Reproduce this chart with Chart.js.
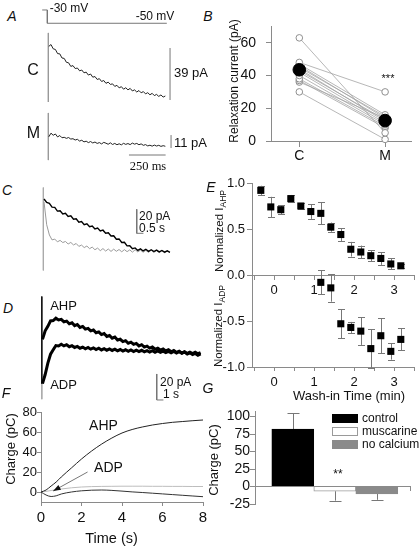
<!DOCTYPE html>
<html>
<head>
<meta charset="utf-8">
<script src="https://cdn.jsdelivr.net/npm/chart.js@4.4.1/dist/chart.umd.min.js"></script>
<style>
  body { margin: 0; background: #fff; }
  #fig { position: relative; width: 419px; height: 546px; overflow: hidden;
         font-family: "Liberation Sans", Arial, sans-serif; color: #111; }
  #fig canvas { position: absolute; }
  .t { position: absolute; white-space: nowrap; line-height: 1; }
  .key { position: absolute; width: 24px; height: 7px; }
</style>
</head>
<body>
<div id="fig"></div>
<script>
// ---- A: voltage step and relaxation currents, control (C) and muscarine (M)
const cmdTimeMs = [-35, 0, 0, 815];
const cmdMv = [-30, -30, -50, -50];
const relaxStartMs = 10, relaxStepMs = 15;
const relaxControlPa = [40.2, 41.6, 38.4, 37.9, 34.8, 34.6, 31.5, 31.2, 28.3, 27.9,
  25.2, 25.8, 23.6, 24.0, 21.9, 22.5, 20.4, 20.9, 18.7, 19.5,
  17.1, 17.6, 15.4, 16.0, 13.9, 14.6, 12.5, 13.4, 11.7, 12.1,
  10.2, 11.0, 9.1, 10.0, 8.1, 9.2, 7.6, 8.7, 6.8, 7.6,
  6.0, 7.1, 5.4, 6.3, 4.6, 5.5, 3.9, 5.0, 3.3, 4.2,
  2.7, 3.8, 2.2, 3.0];
const relaxMuscPa = [9.5, 12.6, 10.8, 11.9, 9.4, 10.6, 8.7, 9.1, 8.2, 8.9,
  7.6, 7.9, 6.8, 7.4, 5.9, 6.6, 5.2, 5.8, 4.6, 5.5,
  4.3, 5.1, 3.9, 4.6, 3.5, 4.8, 4.1, 3.2, 4.4, 3.0,
  3.9, 2.8, 3.6, 2.7, 4.0, 3.1, 3.8, 2.9, 4.2, 3.3,
  3.9, 2.8, 3.5, 2.3, 2.9, 1.8, 2.4, 1.6, 2.5, 1.7,
  2.3, 1.4, 2.0, 1.5];

// ---- B: relaxation current per cell
const bCats = ['C', 'M'];
const cellsControl = [63, 48, 47, 46, 45, 44, 43, 42, 40, 38, 37, 36, 30];
const cellsMusc = [5, 30, 16, 14, 15, 12, 13, 11, 10, 9, 8, 14, 1];
const meanControl = 43.5, meanMusc = 12.5;
const bTicksY = [0, 20, 40, 60];

// ---- C: AHP currents, control (black) and muscarine (grey)
const cStepS = 0.2;
const cControlPa = [42.5, 39.6, 38.8, 35.7, 35.5, 32.4, 32.6, 30.0, 30.5, 27.9,
  28.4, 25.7, 26.0, 23.2, 23.7, 21.1, 21.8, 19.4, 20.0, 17.5,
  18.2, 15.8, 16.5, 13.9, 14.4, 11.7, 11.9, 9.0, 9.2, 6.3,
  6.4, 3.4, 3.5, 1.0, 1.7, -0.4, 0.9, -0.8, 0.6, -1.1,
  0.2, -1.3, -0.1, -1.6, -0.4, -1.8, -0.7, -1.9];
const cMuscPa = [40, 21, 12.5, 8.4, 9.1, 6.8, 8.0, 6.2, 7.1, 5.0,
  6.3, 4.2, 5.4, 3.0, 4.1, 2.0, 3.3, 1.1, 2.4, 0.2,
  1.6, -0.6, 1.2, -0.9, 0.8, -1.2, 0.7, -1.1, 0.4, -1.5,
  0.3, -1.4, 0.1, -1.8, 0.2, -1.6, -0.1, -1.9, -0.3, -2.0,
  -0.2, -2.1, -0.5, -2.2, -0.6, -2.3, -0.8, -2.0];

// ---- D: AHP and ADP currents
const dStepS = 0.4;
const dAhpPa = [12.0, 18.6, 22.0, 26.2, 26.5, 28.3, 27.0, 27.4, 25.5, 26.1,
  24.0, 24.8, 22.6, 23.5, 21.2, 22.0, 19.9, 20.5, 18.6, 19.2,
  17.1, 17.8, 15.7, 16.5, 14.3, 15.0, 12.9, 13.8, 11.5, 12.1,
  10.3, 11.0, 9.0, 9.9, 8.2, 8.9, 7.0, 7.9, 6.1, 6.8,
  5.3, 6.1, 4.4, 5.3, 3.8, 4.6, 3.1, 4.1, 2.5, 3.5,
  2.0, 2.9, 1.4, 2.4, 0.8, 1.7, 0.3, 1.2, -0.2, 0.8];
const dAdpPa = [-22.0, -15.0, -6.2, 0.6, 4.0, 7.3, 7.0, 8.3, 7.0, 7.9,
  6.4, 7.2, 5.8, 6.6, 5.2, 6.1, 4.8, 5.8, 4.5, 5.5,
  4.2, 5.2, 3.9, 4.9, 3.7, 4.7, 3.5, 4.5, 3.2, 4.2,
  3.0, 4.0, 2.9, 3.9, 2.7, 3.7, 2.6, 3.6, 2.4, 3.4,
  2.3, 3.3, 2.1, 3.1, 2.0, 3.0, 1.8, 2.8, 1.7, 2.7,
  1.5, 2.5, 1.4, 2.4, 1.2, 2.2, 1.1, 2.1, 1.0, 1.9];

// ---- E: normalized currents during wash-in
const washMin = [-0.33, -0.08, 0.17, 0.42, 0.67, 0.92, 1.17, 1.42, 1.67, 1.92, 2.17, 2.42, 2.67, 2.92, 3.17];
const ahpNorm = [0.92, 0.74, 0.71, 0.83, 0.75, 0.69, 0.67, 0.52, 0.44, 0.28, 0.25, 0.21, 0.18, 0.12, 0.10];
const ahpErr = [0.05, 0.11, 0.05, 0.04, 0.03, 0.08, 0.12, 0.05, 0.07, 0.08, 0.07, 0.06, 0.07, 0.06, 0.02];
const adpMin = [1.17, 1.42, 1.67, 1.92, 2.17, 2.42, 2.67, 2.92, 3.17];
const adpNorm = [-0.08, -0.14, -0.53, -0.57, -0.61, -0.80, -0.66, -0.83, -0.70];
const adpErr = [0.13, 0.15, 0.16, 0.06, 0.15, 0.21, 0.19, 0.09, 0.12];
const eTicksX = [-0.5, 0, 0.5, 1, 1.5, 2, 2.5, 3, 3.5];
const eTicksY = [-1, -0.5, 0, 0.5, 1];

// ---- F: integrated charge
const chargeTimeS = [0, 0.25, 0.5, 0.75, 1, 1.5, 2, 2.5, 3, 3.5, 4, 4.5, 5, 5.5, 6, 6.5, 7, 7.5, 8];
const chargeAhp = [0, 2, 6, 10, 15, 24, 33, 41, 48, 54, 59, 62.5, 65, 67, 68.5, 69.7, 70.5, 71.3, 72];
const chargeAdpGrey = [0, 0.6, 1.5, 2.3, 3, 4.2, 5, 5.4, 5.6, 5.7, 5.8, 5.8, 5.8, 5.7, 5.7, 5.6, 5.6, 5.5, 5.5];
const chargeAdp = [0, -3, -4.5, -3.8, -2, 0, 1.2, 1.8, 2, 1.6, 0.9, 0.1, -0.5, -1.2, -1.9, -2.6, -3.3, -4, -4.7];
const fTicksX = [0, 2, 4, 6, 8];
const fTicksY = [0, 20, 40, 60, 80];
const adpArrow = { from: [2.3, 20], to: [0.6, 1] };

// ---- G: charge by condition
const gCats = ['control', 'muscarine', 'no calcium'];
const gCharge = [82, -6.7, -10.5];
const gErr = [23, 13.5, 8.5];
const gTicksY = [-25, 0, 25, 50, 75, 100];

// ------------------------------------------------------------------
const INK = '#111', AXIS = '#8a8a8a';
Chart.defaults.font.family = '"Liberation Sans", Arial, sans-serif';
Chart.defaults.color = INK;
Chart.defaults.animation = false;
Chart.defaults.responsive = false;
Chart.defaults.devicePixelRatio = 1;
Chart.defaults.plugins.legend.display = false;
Chart.defaults.plugins.tooltip.enabled = false;

const fig = document.getElementById('fig');

function addCanvas(left, top, w, h) {
  const c = document.createElement('canvas');
  c.width = w; c.height = h;
  c.style.left = left + 'px'; c.style.top = top + 'px';
  c.style.width = w + 'px'; c.style.height = h + 'px';
  fig.appendChild(c);
  return c;
}

function label(html, x, y, o = {}) {
  const d = document.createElement('div');
  d.className = 't';
  d.innerHTML = html;
  d.style.left = x + 'px';
  d.style.top = y + 'px';
  d.style.fontSize = (o.size || 13) + 'px';
  if (o.italic) d.style.fontStyle = 'italic';
  if (o.serif) d.style.fontFamily = '"Liberation Serif", "Times New Roman", serif';
  d.style.transform = 'translate(' + (o.left ? '0' : '-50%') + ', -50%)' + (o.rotate ? ' rotate(-90deg)' : '');
  fig.appendChild(d);
}

const sampled = (t0, dt, vals) => vals.map((v, i) => ({ x: t0 + i * dt, y: v }));
const pairs = (xs, ys) => xs.map((x, i) => ({ x, y: ys[i] }));

function line(data, color, width) {
  return { data, borderColor: color, borderWidth: width, pointRadius: 0, fill: false, clip: false, tension: 0 };
}

function traceChart(canvas, xr, yr, datasets) {
  return new Chart(canvas, {
    type: 'line',
    data: { datasets },
    options: {
      layout: { padding: 0 },
      scales: {
        x: { type: 'linear', display: false, min: xr[0], max: xr[1] },
        y: { type: 'linear', display: false, min: yr[0], max: yr[1] }
      }
    }
  });
}

function axis(o) {
  return {
    type: 'linear', min: o.min, max: o.max, position: o.position,
    offset: false,
    grid: { drawOnChartArea: false, color: AXIS, tickColor: AXIS, tickLength: o.tick ?? 5, offset: false },
    border: { color: AXIS },
    ticks: { display: o.labels !== false, color: INK, font: { size: o.size || 13 }, padding: o.pad ?? 2,
             autoSkip: false, maxRotation: 0, callback: o.fmt || (v => v) },
    afterBuildTicks: s => { s.ticks = o.ticks.map(value => ({ value })); },
    afterFit: s => { if (o.w != null) s.width = o.w; if (o.h != null) s.height = o.h; }
  };
}

// error bars drawn through the chart scales
const errorBars = {
  id: 'errorBars',
  beforeDatasetsDraw(chart) {
    const ctx = chart.ctx;
    chart.data.datasets.forEach((ds, di) => {
      if (!ds.errors) return;
      const meta = chart.getDatasetMeta(di);
      const ys = chart.scales[meta.yAxisID];
      ctx.save();
      ctx.strokeStyle = '#777';
      ctx.lineWidth = 1;
      meta.data.forEach((el, i) => {
        const v = ds.data[i].y, e = ds.errors[i];
        const a = ds.outward ? v : v - e;
        const b = ds.outward ? (v >= 0 ? v + e : v - e) : v + e;
        const x = Math.round(el.x) + 0.5;
        const ya = ys.getPixelForValue(a), yb = ys.getPixelForValue(b);
        ctx.beginPath();
        ctx.moveTo(x, ya); ctx.lineTo(x, yb);
        const caps = ds.outward ? [yb] : [ya, yb];
        caps.forEach(yc => {
          const yy = Math.round(yc) + 0.5;
          ctx.moveTo(x - ds.cap, yy); ctx.lineTo(x + ds.cap, yy);
        });
        ctx.stroke();
      });
      ctx.restore();
    });
  }
};

// ================= A =================
const xA = [-50, 905];
traceChart(addCanvas(40, 4, 140, 24), xA, [-57.1, -21], [
  line(pairs(cmdTimeMs, cmdMv), '#777', 1)
]);
traceChart(addCanvas(40, 28, 140, 78), xA, [-4.5, 54], [
  line(sampled(relaxStartMs, relaxStepMs, relaxControlPa), '#222', 1),
  line([{ x: 7, y: 50.3 }, { x: 7, y: -1.5 }], '#999', 1),
  line([{ x: 837, y: 0 }, { x: 837, y: 39 }], '#777', 1)
]);
traceChart(addCanvas(40, 108, 140, 60), xA, [-16.9, 33.9], [
  line(sampled(relaxStartMs, relaxStepMs, relaxMuscPa), '#222', 1),
  line([{ x: 7, y: 29.7 }, { x: 7, y: -10.2 }], '#999', 1),
  line([{ x: 844, y: 0 }, { x: 844, y: 11 }], '#777', 1),
  line([{ x: 557, y: -5.9 }, { x: 807, y: -5.9 }], '#777', 1)
]);

// ================= B =================
const bSets = cellsControl.map((c, i) => ({
  data: [{ x: 0, y: c }, { x: 1, y: cellsMusc[i] }],
  borderColor: '#a5a5a5', borderWidth: 0.8,
  pointRadius: 3.3, pointBackgroundColor: '#fff', pointBorderColor: '#8f8f8f', pointBorderWidth: 1,
  clip: false
}));
bSets.unshift({
  data: [{ x: 0, y: meanControl }, { x: 1, y: meanMusc }],
  showLine: false, pointRadius: 6.3, pointBackgroundColor: '#000', pointBorderColor: '#000', clip: false
});
new Chart(addCanvas(228, 8, 191, 162), {
  type: 'line',
  data: { datasets: bSets },
  options: {
    layout: { padding: { top: 14, right: 4, left: 0, bottom: 0 } },
    scales: {
      x: axis({ min: -0.33, max: 1.31, ticks: [0, 1], fmt: v => bCats[v], size: 14, tick: 6, pad: 1, h: 29 }),
      y: axis({ min: 0, max: 70, ticks: bTicksY, size: 14, tick: 5, pad: 10, w: 43 })
    }
  }
});

// ================= C =================
traceChart(addCanvas(40, 180, 140, 100), [-0.3, 10.15], [-25, 58.3], [
  line(sampled(0, cStepS, cControlPa), '#000', 1.4),
  line(sampled(0, cStepS, cMuscPa), '#9a9a9a', 1),
  line([{ x: -0.05, y: 52 }, { x: -0.05, y: -17 }], '#aaa', 1),
  line([{ x: 6.92, y: 33.9 }, { x: 6.92, y: 13.9 }, { x: 7.42, y: 13.9 }], '#777', 1)
]);

// ================= D =================
traceChart(addCanvas(38, 290, 172, 115), [-0.67, 25], [-38.46, 50], [
  line(sampled(0, dStepS, dAhpPa), '#000', 3),
  line(sampled(0, dStepS, dAdpPa), '#000', 3),
  line([{ x: -0.1, y: 45 }, { x: -0.1, y: -22 }], '#111', 1),
  line([{ x: -0.1, y: -22 }, { x: -0.1, y: -34 }], '#aaa', 1),
  line([{ x: 17.05, y: -14.6 }, { x: 17.05, y: -34.6 }, { x: 18.05, y: -34.6 }], '#777', 1)
]);

// ================= E =================
new Chart(addCanvas(208, 168, 211, 224), {
  type: 'line',
  data: {
    datasets: [
      { data: pairs(washMin, ahpNorm), errors: ahpErr, cap: 3.5, showLine: false,
        pointStyle: 'rect', pointRadius: 5, pointBackgroundColor: '#000', pointBorderColor: '#000', pointBorderWidth: 0 },
      { data: pairs(adpMin, adpNorm), errors: adpErr, cap: 3.5, showLine: false,
        pointStyle: 'rect', pointRadius: 5, pointBackgroundColor: '#000', pointBorderColor: '#000', pointBorderWidth: 0 }
    ]
  },
  options: {
    layout: { padding: { top: 15, right: 5, left: 0, bottom: 0 } },
    scales: {
      x: axis({ min: -0.55, max: 3.5, ticks: eTicksX, fmt: v => Number.isInteger(v) ? v : '', tick: 4, pad: 4, h: 25 }),
      x0: axis({ min: -0.55, max: 3.5, ticks: eTicksX, fmt: v => Number.isInteger(v) ? v : '', tick: 4, pad: 4, position: { y: 0 } }),
      y: axis({ min: -1, max: 1, ticks: eTicksY, fmt: v => v.toFixed(1), tick: 5, pad: 2, w: 44 })
    }
  },
  plugins: [errorBars]
});

// ================= F =================
const arrowPlugin = {
  id: 'adpArrow',
  afterDatasetsDraw(chart) {
    const { ctx, scales: { x, y } } = chart;
    const x1 = x.getPixelForValue(adpArrow.from[0]), y1 = y.getPixelForValue(adpArrow.from[1]);
    const x2 = x.getPixelForValue(adpArrow.to[0]), y2 = y.getPixelForValue(adpArrow.to[1]);
    const ang = Math.atan2(y2 - y1, x2 - x1);
    ctx.save();
    ctx.strokeStyle = '#777'; ctx.lineWidth = 1;
    ctx.beginPath(); ctx.moveTo(x1, y1); ctx.lineTo(x2, y2); ctx.stroke();
    ctx.fillStyle = '#111';
    ctx.beginPath();
    ctx.moveTo(x2, y2);
    ctx.lineTo(x2 - 8 * Math.cos(ang - 0.35), y2 - 8 * Math.sin(ang - 0.35));
    ctx.lineTo(x2 - 8 * Math.cos(ang + 0.35), y2 - 8 * Math.sin(ang + 0.35));
    ctx.closePath(); ctx.fill();
    ctx.restore();
  }
};
new Chart(addCanvas(0, 398, 212, 148), {
  type: 'line',
  data: {
    datasets: [
      { data: pairs(chargeTimeS, chargeAhp), borderColor: '#222', borderWidth: 1, pointRadius: 0, cubicInterpolationMode: 'monotone' },
      { data: pairs(chargeTimeS, chargeAdp), borderColor: '#333', borderWidth: 1, pointRadius: 0, cubicInterpolationMode: 'monotone' },
      { data: pairs(chargeTimeS, chargeAdpGrey), borderColor: '#bdbdbd', borderWidth: 1, pointRadius: 0, cubicInterpolationMode: 'monotone' }
    ]
  },
  options: {
    layout: { padding: { top: 14, right: 9, left: 0, bottom: 0 } },
    scales: {
      x: axis({ min: 0, max: 8, ticks: fTicksX, size: 15, tick: 4, pad: 3, h: 44 }),
      y: axis({ min: -10, max: 80, ticks: fTicksY, size: 13, tick: 4, pad: 0, w: 41 })
    }
  },
  plugins: [arrowPlugin]
});

// ================= G =================
const gFill = ['#000', '#fff', '#8a8a8a'], gEdge = ['#000', '#9a9a9a', '#8a8a8a'];
new Chart(addCanvas(212, 398, 207, 116), {
  type: 'bar',
  data: {
    datasets: [{
      data: gCharge.map((v, i) => ({ x: i, y: v })),
      errors: gErr, outward: true, cap: 6,
      backgroundColor: gFill, borderColor: gEdge, borderWidth: 1,
      barThickness: 42, grouped: false
    }]
  },
  options: {
    layout: { padding: { top: 13, right: 9, left: 0, bottom: 10 } },
    scales: {
      x: axis({ min: -0.9, max: 2.79, ticks: [2.79], labels: false, tick: 4, position: { y: 0 } }),
      y: axis({ min: -25, max: 108, ticks: gTicksY, size: 14, tick: 5, pad: 0, w: 43 })
    }
  },
  plugins: [errorBars]
});
gCats.forEach((name, i) => {
  const k = document.createElement('div');
  k.className = 'key';
  k.style.left = '332px'; k.style.top = (414 + 13 * i) + 'px';
  k.style.background = gFill[i];
  k.style.border = '1px solid ' + gEdge[i];
  fig.appendChild(k);
  label(name, 362, 418 + 13 * i, { size: 12, left: true });
});

// ================= text =================
[['A', 12, 16], ['B', 208, 16], ['C', 7, 190], ['D', 8, 308], ['E', 211, 187], ['F', 6, 393], ['G', 208, 388]]
  .forEach(([s, x, y]) => label(s, x, y, { size: 14, italic: true }));
label('-30 mV', 69, 8, { size: 12 });
label('-50 mV', 155, 16, { size: 12 });
label('C', 33, 70, { size: 16 });
label('M', 33.5, 132.5, { size: 16 });
label('39 pA', 174, 72, { size: 13, left: true });
label('11 pA', 174, 142, { size: 13, left: true });
label('250 ms', 148, 166, { size: 12.5, serif: true });
label('***', 388, 78, { size: 11 });
label('Relaxation current (pA)', 234, 81, { size: 12, rotate: true });
label('20 pA', 139, 216, { size: 12, left: true });
label('0.5 s', 139, 228, { size: 12, left: true });
label('AHP', 63.5, 305, { size: 13 });
label('ADP', 63.5, 384, { size: 13 });
label('20 pA', 160, 382, { size: 12, left: true });
label('1 s', 163, 394, { size: 12, left: true });
label('Normalized I<span style="font-size:8.5px;vertical-align:-3px">AHP</span>', 221, 231, { size: 11.5, rotate: true });
label('Normalized I<span style="font-size:8.5px;vertical-align:-3px">ADP</span>', 220, 326, { size: 11.5, rotate: true });
label('Wash-in Time (min)', 349, 395, { size: 13 });
label('AHP', 103.5, 425, { size: 14 });
label('ADP', 108.5, 467, { size: 14 });
label('Charge (pC)', 10, 449, { size: 13, rotate: true });
label('Time (s)', 111.5, 538, { size: 14.5 });
label('Charge (pC)', 213, 460, { size: 13, rotate: true });
label('**', 338, 474, { size: 12 });
</script>
</body>
</html>
